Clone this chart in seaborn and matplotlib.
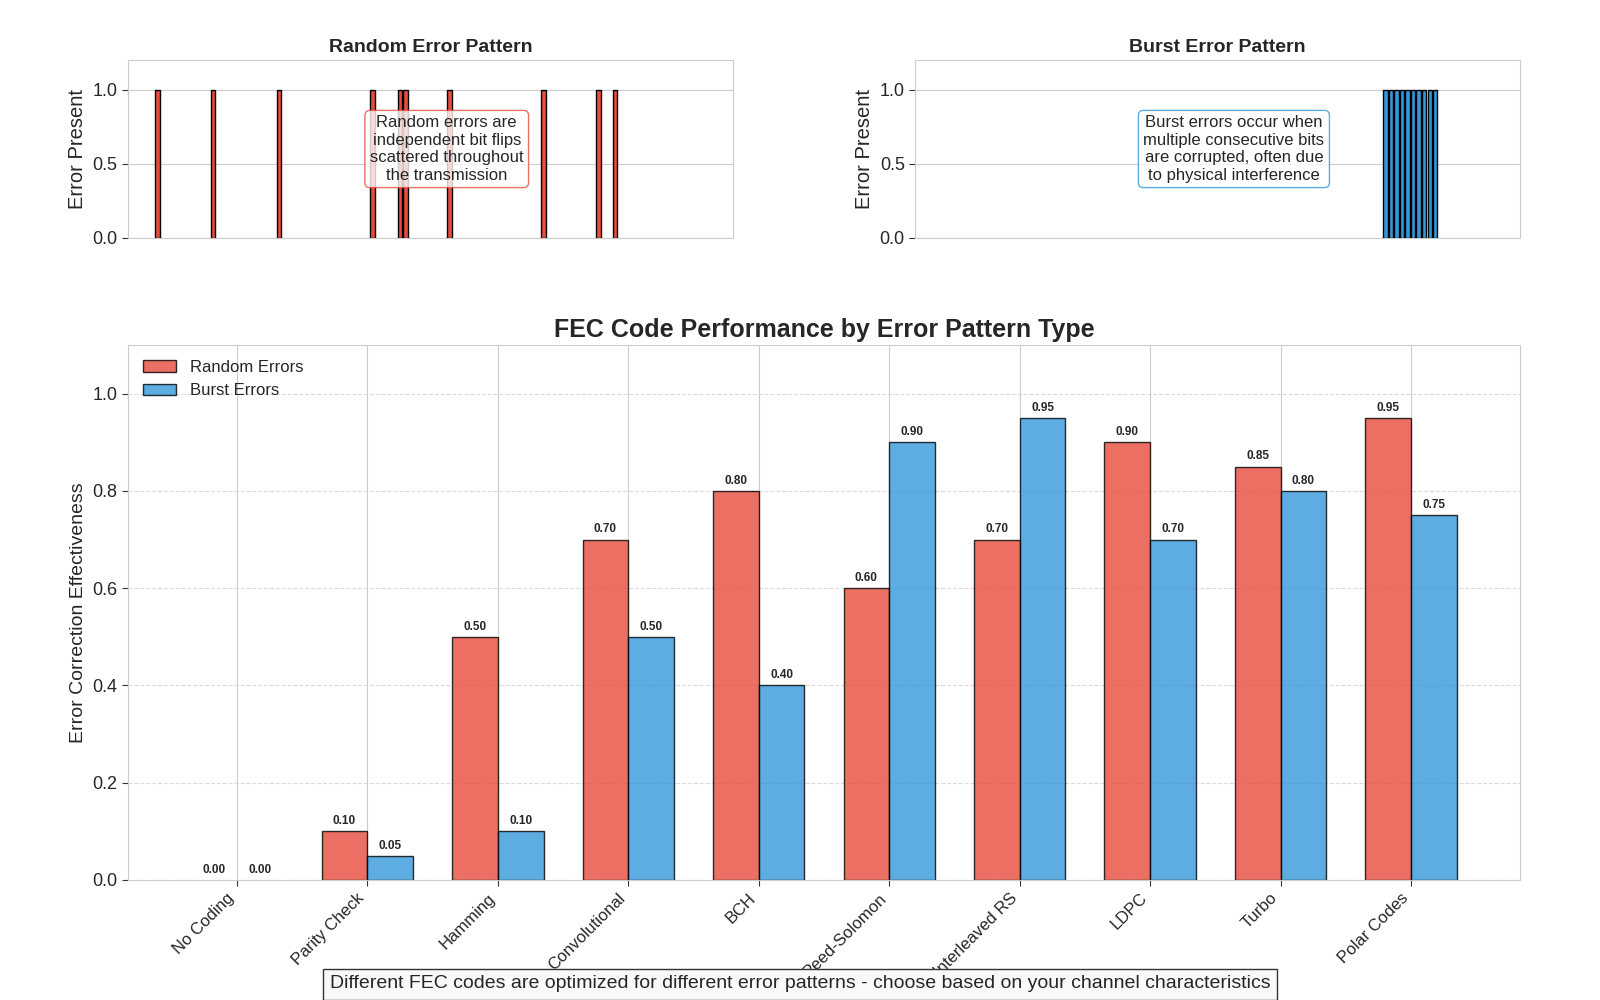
import matplotlib
matplotlib.use("Agg")
import matplotlib.pyplot as plt
import seaborn as sns
import numpy as np
import pandas as pd

# bit streams (100 bits each)
n_bits = 100
random_error_bits = [0, 10, 22, 39, 44, 45, 53, 70, 80, 83]
burst_error_bits = [80, 81, 82, 83, 84, 85, 86, 87, 88, 89]

# FEC performance
codes = ["No Coding", "Parity Check", "Hamming", "Convolutional", "BCH",
         "Reed-Solomon", "Interleaved RS", "LDPC", "Turbo", "Polar Codes"]
random_perf = [0.00, 0.10, 0.50, 0.70, 0.80, 0.60, 0.70, 0.90, 0.85, 0.95]
burst_perf = [0.00, 0.05, 0.10, 0.50, 0.40, 0.90, 0.95, 0.70, 0.80, 0.75]

RED = "#e74c3c"
BLUE = "#3498db"

sns.set_style("whitegrid", {"xtick.bottom": True, "ytick.left": True})
plt.rcParams["font.family"] = ["Liberation Sans", "DejaVu Sans"]

fig = plt.figure(figsize=(16, 10), dpi=100)
ax1 = fig.add_axes([0.080, 0.762, 0.378, 0.178])
ax2 = fig.add_axes([0.572, 0.762, 0.378, 0.178])
ax3 = fig.add_axes([0.080, 0.120, 0.870, 0.535])


def edge_widths(values):
    # zero-height bars get no outline
    return [1 if v > 0 else 0 for v in values]


def draw_pattern(ax, err_bits, color, title, note):
    bits = np.zeros(n_bits)
    bits[err_bits] = 1
    ax.bar(np.arange(n_bits), bits, width=0.8, color=color, edgecolor="black",
           linewidth=edge_widths(bits))
    ax.set_ylim(0, 1.2)
    ax.set_yticks([0, 0.5, 1.0])
    ax.set_xticks([])
    ax.set_ylabel("Error Present", fontsize=14.5)
    ax.set_title(title, fontsize=14, fontweight="bold")
    ax.tick_params(axis="y", labelsize=13, length=4, color="#333333")
    ax.text(0.527, 0.5, note, transform=ax.transAxes, ha="center", va="center",
            fontsize=12, linespacing=1.2,
            bbox=dict(boxstyle="round,pad=0.3", facecolor="white", alpha=0.8, edgecolor=color))


draw_pattern(ax1, random_error_bits, RED, "Random Error Pattern",
             "Random errors are\nindependent bit flips\nscattered throughout\nthe transmission")
draw_pattern(ax2, burst_error_bits, BLUE, "Burst Error Pattern",
             "Burst errors occur when\nmultiple consecutive bits\nare corrupted, often due\nto physical interference")

x = np.arange(len(codes))
width = 0.35
b1 = ax3.bar(x - width / 2, random_perf, width, label="Random Errors", color=RED,
             alpha=0.8, edgecolor="black", linewidth=edge_widths(random_perf))
b2 = ax3.bar(x + width / 2, burst_perf, width, label="Burst Errors", color=BLUE,
             alpha=0.8, edgecolor="black", linewidth=edge_widths(burst_perf))

for bars in (b1, b2):
    for bar in bars:
        h = bar.get_height()
        ax3.annotate(f"{h:.2f}", (bar.get_x() + bar.get_width() / 2, h),
                     textcoords="offset points", xytext=(0, 3), ha="center", va="bottom",
                     fontsize=8.5, fontweight="bold")

ax3.set_ylim(0, 1.1)
ax3.set_xticks(x)
ax3.set_xticklabels(codes, rotation=45, ha="right", fontsize=12)
ax3.tick_params(axis="y", labelsize=13, length=4, color="#333333")
ax3.tick_params(axis="x", length=4, color="#333333")
ax3.set_ylabel("Error Correction Effectiveness", fontsize=14)
ax3.set_title("FEC Code Performance by Error Pattern Type", fontsize=18, fontweight="bold")
ax3.grid(axis="y", linestyle="--", alpha=0.7)
leg = ax3.legend(loc="upper left", fontsize=12, frameon=False)
for h in leg.legend_handles:
    h.set_linewidth(1)

fig.text(0.5, 0.016, "Different FEC codes are optimized for different error patterns - choose based on your channel characteristics",
         ha="center", va="center", fontsize=14,
         bbox=dict(facecolor="#f8f9fa", edgecolor="#333333", pad=5))

fig.savefig("out.png", dpi=100)
